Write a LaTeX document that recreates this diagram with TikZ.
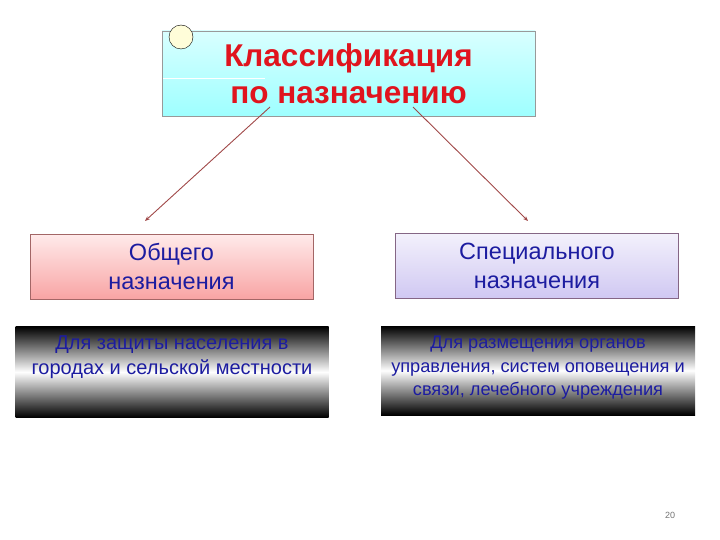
\documentclass[tikz,border=0pt]{standalone}
\usepackage{fontspec}
\setmainfont{Liberation Sans}
\usetikzlibrary{arrows.meta}
\definecolor{titlered}{HTML}{E0141E}
\definecolor{boxblue}{HTML}{1C1CA0}
\definecolor{arrowred}{HTML}{A04848}
\definecolor{lavender}{HTML}{D0C8F2}
\definecolor{salmon}{HTML}{F8A4A4}

\tikzset{
	kind/.style={draw, minimum width=283, minimum height=65, align=center,
		text=boxblue, font=\fontsize{23.5}{29}\selectfont},
	detail/.style={minimum width=313, minimum height=91,
		top color=black, bottom color=black, middle color=white},
	detailtext/.style={anchor=north, align=center, text=boxblue, inner sep=0}
	,branch/.style={draw=arrowred, line width=0.9pt, -{Stealth[length=5pt,width=4pt]}}
}

\begin{document}
\begin{tikzpicture}[x=1pt, y=-1pt]
			%%%%% START %%%%%
			\useasboundingbox (0, 0) rectangle (720, 540);
			
			\node[draw=black!40, minimum width=373, minimum height=85, align=center,
				top color=cyan!15, bottom color=cyan!38!white, text=titlered,
				font=\fontsize{31.5}{37}\selectfont\bfseries] (title) at (348.5, 73.5)
				{Классификация\\по назначению};
			\draw[white, line width=1pt] (163, 79) -- (265, 79);
			\node[draw=black, fill=yellow!15, circle, minimum size=24, inner sep=0] (knob) at (181, 37) {};
			
			\node[kind, draw=red!40!black!60, top color=red!8, bottom color=salmon] (common) at (171.5, 266.5)
				{Общего\\назначения};
			\node[kind, draw=violet!40!black!60, top color=lavender!25, bottom color=lavender] (special) at (537, 265.5)
				{Специального\\назначения};
			
			\coordinate (from1) at (270, 107);
			\coordinate (to1) at (145, 221);
			\coordinate (from2) at (413, 107);
			\coordinate (to2) at (528, 221);
			\draw[branch] (from1) -- (to1);
			\draw[branch] (from2) -- (to2);
			
			\node[detail] (shelter1) at (172, 372) {};
			\node[detailtext, font=\fontsize{20}{25}\selectfont] (text1) at ([yshift=-9]shelter1.north)
				{Для защиты населения в\\городах и сельской местности};
			\node[detail, minimum width=314, minimum height=89] (shelter2) at (538, 370.5) {};
			\node[detailtext, font=\fontsize{18.2}{23.5}\selectfont] (text2) at ([yshift=-10]shelter2.north)
				{Для размещения органов\\управления, систем оповещения и\\связи, лечебного учреждения};
			
			\node[text=black!55, font=\fontsize{9}{11}\selectfont] (page) at (670, 515) {20};
			%%%%% END %%%%%
		\end{tikzpicture}
\end{document}
